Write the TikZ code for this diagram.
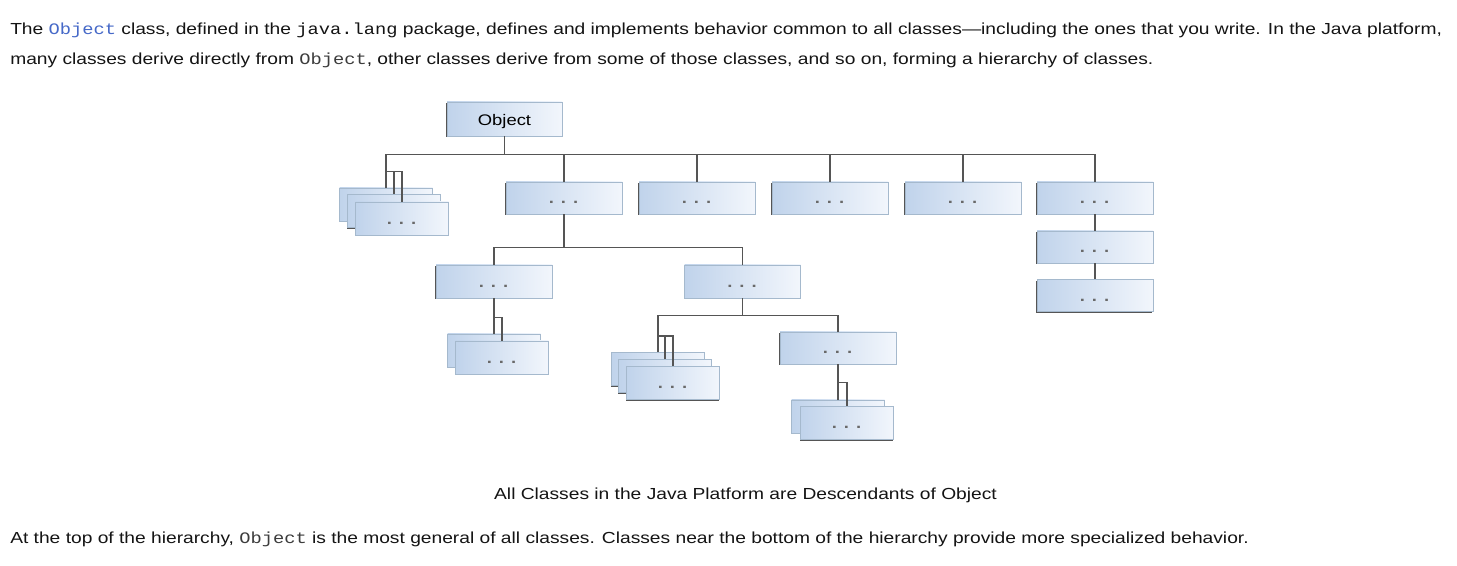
\documentclass[tikz,border=0pt]{standalone}
\usepackage{fontspec}
\setmainfont{Liberation Sans}[FakeStretch=1.2]
\setmonofont{Liberation Mono}[FakeStretch=1.17]
\usetikzlibrary{shadows}
\definecolor{ink}{RGB}{20,20,20}
\definecolor{linkblue}{RGB}{70,105,200}
\definecolor{codegray}{RGB}{60,60,60}
\definecolor{boxedge}{RGB}{165,185,205}
\definecolor{boxleft}{RGB}{192,211,235}
\definecolor{boxright}{RGB}{242,246,252}
\definecolor{wire}{RGB}{85,85,85}
\definecolor{dotgray}{RGB}{105,105,105}
\newcommand{\clsdots}{\smash{\raisebox{-7.2pt}{\textcolor{dotgray}{\textbf{·\hspace{4.5pt}·\hspace{4.5pt}·}}}}}
\newcommand{\code}[1]{\texttt{#1}}

\begin{document}
\begin{tikzpicture}[x=0.75pt,y=-0.75pt,
  cls/.style={draw=boxedge,line width=0.5pt,left color=boxleft,right color=boxright,
    minimum width=87pt,minimum height=24pt,inner sep=0pt,font=\fontsize{11.5}{13}\selectfont,
    drop shadow={shadow xshift=-0.6pt,shadow yshift=-1pt,fill=wire,opacity=1}},
  stack/.style={cls,minimum width=69.75pt,minimum height=24.75pt},
  wired/.style={draw=wire,line width=1.1pt},
  para/.style={anchor=base west,inner sep=0pt,font=\fontsize{12}{14}\selectfont,text=ink}]
  \fill[white] (0,0) rectangle (1457,566);
  \useasboundingbox (0,0) rectangle (1457,566);

  % text round the figure
  \node[para] (intro1) at (10,34.5) {The \textcolor{linkblue}{\code{Object}} class, defined in the \code{java.lang} package, defines and implements behavior common to all classes---including the ones that you write. In the Java platform,};
  \node[para] (intro2) at (10,65) {many classes derive directly from \textcolor{codegray}{\code{Object}}, other classes derive from some of those classes, and so on, forming a hierarchy of classes.};

  % class boxes
  \node[cls,minimum width=86.25pt,minimum height=25.5pt] (obj) at (504.5,119) {\smash{\raisebox{-5.2pt}{Object}}};
  \foreach \n/\x in {sub1/564,sub2/697,sub3/830,sub4/963,sub5/1095}
    \node[cls] (\n) at (\x,198) {\clsdots};
  \node[cls] (r2) at (1095,247) {\clsdots};
  \node[cls] (r3) at (1095,295.5) {\clsdots};
  \foreach \n/\x/\y/\t in {ls1/386/204.5/,ls2/394/211/,ls3/402/218.5/\clsdots}
    \node[stack] (\n) at (\x,\y) {\t};
  \node[cls,minimum height=24.75pt] (b1) at (494,281.5) {\clsdots};
  \node[cls,minimum height=24.75pt] (b2) at (742.5,281.5) {\clsdots};
  \foreach \n/\x/\y/\t in {cs1/494/350.5/,cs2/502/357.5/\clsdots}
    \node[stack] (\n) at (\x,\y) {\t};
  \foreach \n/\x/\y/\t in {ds1/658/369/,ds2/665/376/,ds3/673/383/\clsdots}
    \node[stack] (\n) at (\x,\y) {\t};
  \node[cls] (e1) at (838,348) {\clsdots};
  \foreach \n/\x/\y/\t in {fs1/838/416.5/,fs2/847/423/\clsdots}
    \node[stack] (\n) at (\x,\y) {\t};

  % connectors
  \foreach \n in {ls1,sub1,sub2,sub3,sub4,sub5}
    \draw[wired] (obj.south) -- ++(0,18) -| (\n.north);
  \draw[wired] (ls1.north) ++(0,-16) -| (ls3.north);
  \draw[wired] (ls2.north) -- ++(0,-22.5);
  \draw[wired] (sub5.south) -- (r2.north);
  \draw[wired] (r2.south) -- (r3.north);
  \foreach \n in {b1,b2}
    \draw[wired] (sub1.south) -- ++(0,33) -| (\n.north);
  \draw[wired] (b1.south) -- (cs1.north);
  \draw[wired] (cs1.north) ++(0,-16) -| (cs2.north);
  \foreach \n in {ds1,e1}
    \draw[wired] (b2.south) -- ++(0,17) -| (\n.north);
  \draw[wired] (ds1.north) ++(0,-16) -| (ds3.north);
  \draw[wired] (ds2.north) -- ++(0,-23);
  \draw[wired] (e1.south) -- (fs1.north);
  \draw[wired] (fs1.north) ++(0,-17) -| (fs2.north);

  \node[anchor=base,inner sep=0pt,font=\fontsize{12}{14}\selectfont,text=ink] (cap) at (745.5,499) {All Classes in the Java Platform are Descendants of Object};
  \node[para] (outro) at (10,543) {At the top of the hierarchy, \textcolor{codegray}{\code{Object}} is the most general of all classes. Classes near the bottom of the hierarchy provide more specialized behavior.};
\end{tikzpicture}
\end{document}
